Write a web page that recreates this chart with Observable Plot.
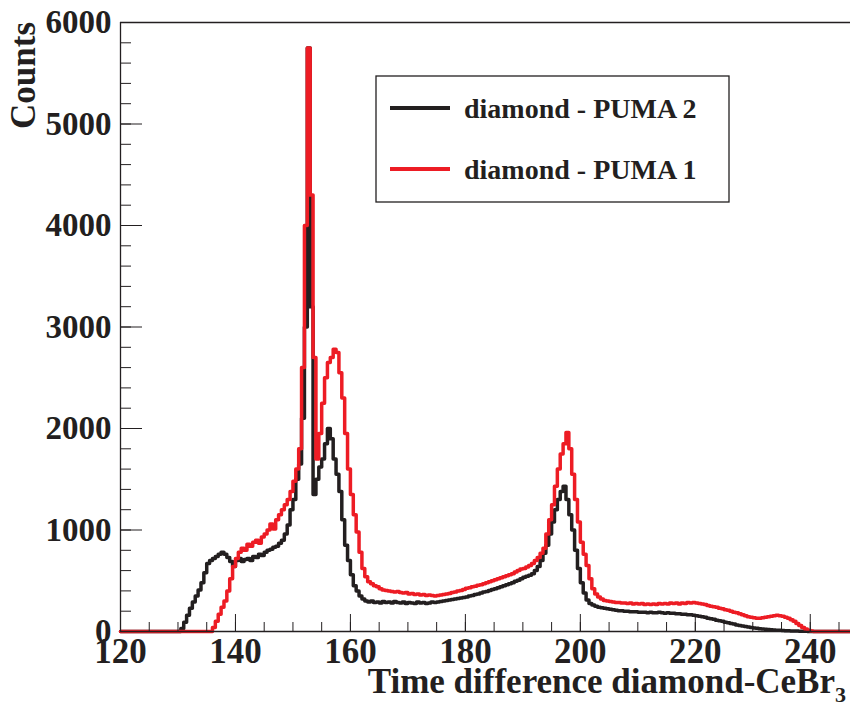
<!DOCTYPE html>
<html><head><meta charset="utf-8">
<script src="https://cdn.jsdelivr.net/npm/d3@7"></script>
<script src="https://cdn.jsdelivr.net/npm/@observablehq/plot@0.6"></script>
<style>body{margin:0;background:#fff} #chart{position:relative;width:850px;height:711px}</style>
</head><body><div id="chart"></div>
<script>
// Histogram bins: left edge = binStart + i * binWidth
const binStart = 120, binWidth = 0.5;
const seriesNames = ["diamond - PUMA 2", "diamond - PUMA 1"];
const seriesColors = ["#231f20", "#ed1c24"];
const xLabel = "Time difference diamond-CeBr";
const xLabelSub = "3";
const yLabel = "Counts";

// diamond - PUMA 2 (black)
const puma2 = [
  0,0,0,0,0,0,0,0,0,0,
  0,0,0,0,0,0,0,0,0,0,
  0,30,90,160,230,290,350,410,480,580,
  670,700,720,740,760,780,760,730,690,640,
  700,720,690,710,720,700,740,730,760,750,
  780,800,810,830,840,870,900,960,1050,1200,
  1300,1500,1650,2100,3000,5750,3200,1350,1500,1620,
  1700,1850,2000,1900,1700,1550,1380,1100,850,700,
  560,450,400,350,320,300,290,300,285,290,
  280,295,285,290,280,295,285,280,290,275,
  285,280,275,290,280,285,275,280,290,285,
  290,295,300,305,310,315,320,325,330,335,
  340,350,355,365,370,380,390,395,405,415,
  420,430,440,450,460,470,480,495,505,520,
  535,545,555,570,600,640,700,770,850,960,
  1080,1200,1300,1380,1430,1300,1150,1000,800,620,
  480,380,310,275,260,250,240,235,230,225,
  220,215,210,205,205,200,200,195,195,195,
  190,190,190,185,190,185,185,190,185,180,
  185,180,180,175,175,170,170,165,165,160,
  155,150,145,140,130,125,120,110,105,100,
  90,85,80,75,65,60,55,50,45,40,
  35,32,28,25,22,20,18,15,13,12,
  10,8,7,6,5,4,3,2,2,1,
  0,0,0,0,0,0,0,0,0,0,
  0,0,0,0
];

// diamond - PUMA 1 (red)
const puma1 = [
  0,0,0,0,0,0,0,0,0,0,
  0,0,0,0,0,0,0,0,0,0,
  0,0,0,0,0,0,0,0,0,0,
  0,0,40,100,170,240,300,400,520,640,
  720,780,820,800,860,840,880,900,870,930,
  960,1000,1060,1010,1100,1150,1200,1250,1300,1380,
  1480,1600,1800,2600,4000,5750,4300,2700,1700,1950,
  2250,2500,2650,2700,2780,2750,2550,2300,1950,1600,
  1350,1150,980,780,620,540,490,470,450,440,
  420,410,405,400,395,390,395,385,380,385,
  370,375,365,370,360,365,355,360,355,350,
  355,360,365,370,375,385,390,400,405,415,
  425,430,440,445,455,460,470,480,490,500,
  510,520,530,540,550,560,570,585,600,615,
  620,635,650,670,700,730,770,820,960,1100,
  1250,1430,1600,1750,1850,1960,1800,1550,1300,1080,
  880,760,650,520,420,370,340,320,305,300,
  295,290,285,285,280,280,275,280,270,275,
  270,275,265,270,265,270,265,275,270,275,
  270,280,275,280,270,280,275,285,280,285,
  280,275,270,265,255,250,245,240,230,225,
  215,210,200,190,185,175,165,155,145,140,
  135,130,130,135,140,145,150,155,160,155,
  150,140,130,115,100,80,60,40,25,12,
  5,0,0,0,0,0,0,0,0,0,
  0,0,0,0
];

const xDomain = [120, 247];
const yDomain = [0, 6000];
const xTicksMajor = [120, 140, 160, 180, 200, 220, 240];
const xTicksMinor = [120,125,130,135,140,145,150,155,160,165,170,175,180,185,190,195,200,205,210,215,220,225,230,235,240,245];
const yTicksMajor = [0, 1000, 2000, 3000, 4000, 5000, 6000];
const yTicksMinor = [0,200,400,600,800,1000,1200,1400,1600,1800,2000,2200,2400,2600,2800,3000,3200,3400,3600,3800,4000,4200,4400,4600,4800,5000,5200,5400,5600,5800,6000];

function toSteps(counts) {
  const pts = counts.map((c, i) => ({x: binStart + i * binWidth, y: c}));
  pts.push({x: binStart + counts.length * binWidth, y: counts[counts.length - 1]});
  return pts;
}

const W = 850, H = 711, mL = 120, mT = 22, mB = 80, mR = 0;
const plotH = H - mT - mB, plotW = W - mL - mR;
const frameColor = "#231f20";
const font = "'Liberation Serif', 'Times New Roman', serif";

const chart = Plot.plot({
  width: W, height: H,
  marginLeft: mL, marginTop: mT, marginBottom: mB, marginRight: mR,
  style: {fontFamily: font, background: "#fff", color: "#231f20"},
  x: {domain: xDomain},
  y: {domain: yDomain},
  marks: [
    Plot.line(toSteps(puma2), {x: "x", y: "y", curve: "step-after", stroke: seriesColors[0], strokeWidth: 3.5}),
    Plot.line(toSteps(puma1), {x: "x", y: "y", curve: "step-after", stroke: seriesColors[1], strokeWidth: 3.5}),
    Plot.ruleY([yDomain[0], yDomain[1]], {stroke: frameColor, strokeWidth: 1.3}),
    Plot.ruleX([xDomain[0]], {stroke: frameColor, strokeWidth: 1.3}),
    Plot.tickX(xTicksMajor, {x: d => d, insetTop: plotH - 17, stroke: frameColor, strokeWidth: 1}),
    Plot.tickX(xTicksMinor, {x: d => d, insetTop: plotH - 9, stroke: frameColor, strokeWidth: 1}),
    Plot.tickY(yTicksMajor, {y: d => d, insetRight: plotW - 22, stroke: frameColor, strokeWidth: 1}),
    Plot.tickY(yTicksMinor, {y: d => d, insetRight: plotW - 11, stroke: frameColor, strokeWidth: 1}),
    Plot.axisX(xTicksMajor, {tickSize: 0, tickPadding: 7, tickFormat: d => String(d), fontSize: 35, fontWeight: "bold", label: null, fill: frameColor}),
    Plot.axisY(yTicksMajor, {tickSize: 0, tickPadding: 9, tickFormat: d => String(d), fontSize: 33, fontWeight: "bold", label: null, fill: frameColor})
  ]
});

document.getElementById("chart").appendChild(chart);

const svg = d3.select(chart);
// x-axis title with subscript
const xt = svg.append("text")
  .attr("x", 846).attr("y", 693)
  .attr("text-anchor", "end")
  .attr("font-family", font).attr("font-size", 35).attr("font-weight", "bold")
  .attr("fill", frameColor)
  .text(xLabel);
xt.append("tspan").attr("font-size", 22).attr("dy", 9).text(xLabelSub);

// y-axis title
svg.append("text")
  .attr("transform", "translate(35,22) rotate(-90)")
  .attr("text-anchor", "end")
  .attr("font-family", font).attr("font-size", 35).attr("font-weight", "bold")
  .attr("fill", frameColor)
  .text(yLabel);

// legend
const lg = svg.append("g");
lg.append("rect").attr("x", 376).attr("y", 76).attr("width", 353).attr("height", 126)
  .attr("fill", "#fff").attr("stroke", frameColor).attr("stroke-width", 1.3);
seriesNames.forEach((name, i) => {
  const yy = 108 + i * 61;
  lg.append("line").attr("x1", 390).attr("x2", 450).attr("y1", yy).attr("y2", yy)
    .attr("stroke", seriesColors[i]).attr("stroke-width", 4);
  lg.append("text").attr("x", 464).attr("y", yy + 10)
    .attr("text-anchor", "start")
    .attr("font-family", font).attr("font-size", 28).attr("font-weight", "bold")
    .attr("fill", frameColor).text(name);
});
</script>
</body></html>
